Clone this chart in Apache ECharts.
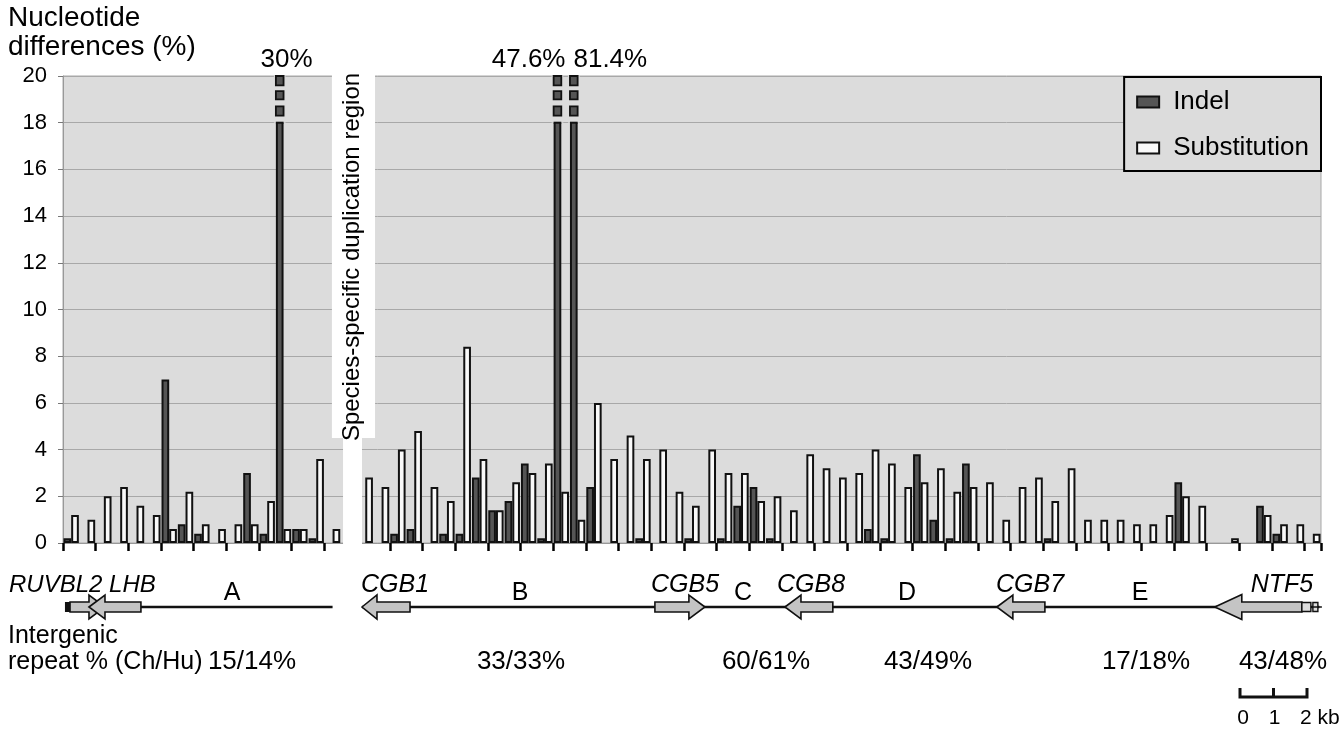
<!DOCTYPE html>
<html><head><meta charset="utf-8">
<script src="https://cdn.jsdelivr.net/npm/echarts@6/dist/echarts.min.js"></script>
<style>html,body{margin:0;padding:0;background:#fff}#c{width:1339px;height:730px}</style>
</head><body><div id="c"></div>
<script>
// ---------------- DATA ----------------
const categories = ['1','2','3','4','5','6','7','8','9','10','11','12','13','14','15','16','17','gap',
 '19','20','21','22','23','24','25','26','27','28','29','30','31','32','33','34','35','36','37','38','39','40',
 '41','42','43','44','45','46','47','48','49','50','51','52','53','54','55','56','57','58','59','60',
 '61','62','63','64','65','66','67','68','69','70','71','72','73','74','75','76','77'];
const indel = [0.2,0,0,0,0,0,7.0,0.8,0.4,0,0,3.0,0.4,30,0.6,0.2,0,
 null,
 0,0,0.4,0.6,0,0.4,0.4,2.8,1.4,1.8,3.4,0.2,47.6,81.4,2.4,0,0,0.2,0,0,0.2,0,0.2,1.6,2.4,0.2,
 0,0,0,0,0,0.6,0.2,0,3.8,1.0,0.2,3.4,0,0,0,0,0.2,0,0,0,0,0,0,0,2.6,0,0,0,0,1.6,0.4,0,0];
const substitution = [1.2,1.0,2.0,2.4,1.6,1.2,0.6,2.2,0.8,0.6,0.8,0.8,1.8,0.6,0.6,3.6,0.6,
 null,
 2.8,2.4,4.0,4.8,2.4,1.8,8.4,3.6,1.4,2.6,3.0,3.4,2.2,1.0,6.0,3.6,4.6,3.6,4.0,2.2,1.6,4.0,3.0,3.0,1.8,2.0,
 1.4,3.8,3.2,2.8,3.0,4.0,3.4,2.4,2.6,3.2,2.2,2.4,2.6,1.0,2.4,2.8,1.8,3.2,1.0,1.0,1.0,0.8,0.8,1.2,2.0,1.6,0,0.2,0,1.2,0.8,0.8,0.4];
const yTicks = [0,2,4,6,8,10,12,14,16,18,20];
const seriesNames = ['Indel','Substitution'];
const yAxisTitle = ['Nucleotide','differences (%)'];
const gapLabel = 'Species-specific duplication region';
const geneNames = ['RUVBL2','LHB','CGB1','CGB5','CGB8','CGB7','NTF5'];
const regionNames = ['A','B','C','D','E'];
const repeatTitle = ['Intergenic','repeat % (Ch/Hu)'];
const repeatPct = ['15/14%','33/33%','60/61%','43/49%','17/18%','43/48%'];
const scaleLabels = ['0','1','2 kb'];

// ---------------- LAYOUT / STYLE ----------------
const FONT = "'Liberation Sans', Arial, sans-serif";
const L = {
  grid: {left: 63, top: 76, width: 1258, height: 467},
  barCatGap: 0.06,
  gapStrip: [17.14, 18.3], gapBox: [16.46, 19.1], gapBoxBottom: 438,
  trackY: 607,
  segments: [[0.3, 16.5], [18.3, 76.9]],
  // gene extents in category units: [tail, tip]
  genes: [[0.43, 2.57], [4.77, 1.59], [21.24, 18.3], [36.23, 39.29], [47.12, 44.19], [60.1, 57.16], [75.83, 70.5]],
  geneHead: [16, 16, 15, 16, 16, 16, 27],
  geneLabelX: [395, 685, 811, 1030, 1282], geneLabelY: 585,
  regionX: [232, 520, 743, 907, 1140], regionY: 593,
  repeatX: [252, 521, 766, 928, 1146, 1283], repeatY: 662,
  scaleBar: {x0: 1240, x1: 1307, y: 697}
};
const N = categories.length;
const catW = L.grid.width / N;
const ux = u => L.grid.left + u * catW;
const yMin = yTicks[0], yMax = yTicks[yTicks.length - 1], yStep = yTicks[1] - yTicks[0];

function arrowPts(tail, tip, yc, headLen, headH, bodyH) {
  const d = tip > tail ? 1 : -1;
  const hb = tip - d * headLen;
  return [[tip, yc], [hb, yc - headH], [hb, yc - bodyH], [tail, yc - bodyH], [tail, yc + bodyH], [hb, yc + bodyH], [hb, yc + headH]];
}

const graphics = [];
// gap overlay
graphics.push({type: 'rect', z: 100, shape: {x: ux(L.gapBox[0]), y: 40, width: ux(L.gapBox[1]) - ux(L.gapBox[0]), height: L.gapBoxBottom - 40}, style: {fill: '#fff'}});
graphics.push({type: 'rect', z: 100, shape: {x: ux(L.gapStrip[0]), y: 40, width: ux(L.gapStrip[1]) - ux(L.gapStrip[0]), height: 520}, style: {fill: '#fff'}});
graphics.push({type: 'text', z: 101, x: (ux(L.gapStrip[0]) + ux(L.gapStrip[1])) / 2, y: (L.grid.top + L.gapBoxBottom) / 2, rotation: Math.PI / 2,
  style: {text: gapLabel, x: 0, y: 0, font: '24px ' + FONT, fill: '#000', textAlign: 'center', textVerticalAlign: 'middle'}});
// y title
yAxisTitle.forEach((t, i) => graphics.push({type: 'text', z: 101, style: {text: t, x: 8, y: 18 + i * 29, font: '28px ' + FONT, fill: '#000', textAlign: 'left', textVerticalAlign: 'middle'}}));
// track lines
L.segments.forEach(s => graphics.push({type: 'line', z: 100, shape: {x1: ux(s[0]), y1: L.trackY, x2: ux(s[1]), y2: L.trackY}, style: {stroke: '#111', lineWidth: 2.5}}));
// genes
L.genes.forEach((g, i) => {
  const big = i === 6;
  graphics.push({type: 'polygon', z: 102, shape: {points: arrowPts(ux(g[0]), ux(g[1]), L.trackY, L.geneHead[i], big ? 12.5 : 12, 5)},
    style: {fill: '#c4c4c4', stroke: '#111', lineWidth: 1.6}});
});
// RUVBL2 black cap
graphics.push({type: 'rect', z: 103, shape: {x: ux(0.12), y: L.trackY - 5, width: ux(0.43) - ux(0.12), height: 10}, style: {fill: '#111'}});
// NTF5 small exons
graphics.push({type: 'rect', z: 103, shape: {x: ux(75.83), y: L.trackY - 4.5, width: 9, height: 9}, style: {fill: '#ddd', stroke: '#111', lineWidth: 1.4}});
graphics.push({type: 'rect', z: 103, shape: {x: ux(75.83) + 11, y: L.trackY - 4.5, width: 5, height: 9}, style: {fill: '#ddd', stroke: '#111', lineWidth: 1.4}});
graphics.push({type: 'line', z: 103, shape: {x1: ux(75.83) + 9, y1: L.trackY, x2: ux(75.83) + 20, y2: L.trackY}, style: {stroke: '#111', lineWidth: 1.5}});
// gene labels (first two share one line)
graphics.push({type: 'text', z: 104, style: {text: geneNames[0] + ' ' + geneNames[1], x: 9, y: L.geneLabelY, font: 'italic 24px ' + FONT, fill: '#000', textAlign: 'left', textVerticalAlign: 'middle'}});
geneNames.slice(2).forEach((t, i) => graphics.push({type: 'text', z: 104, style: {text: t, x: L.geneLabelX[i], y: L.geneLabelY, font: 'italic 25px ' + FONT, fill: '#000', textAlign: 'center', textVerticalAlign: 'middle'}}));
regionNames.forEach((t, i) => graphics.push({type: 'text', z: 104, style: {text: t, x: L.regionX[i], y: L.regionY, font: '25px ' + FONT, fill: '#000', textAlign: 'center', textVerticalAlign: 'middle'}}));
repeatTitle.forEach((t, i) => graphics.push({type: 'text', z: 104, style: {text: t, x: 8, y: 636 + i * 26, font: '25px ' + FONT, fill: '#000', textAlign: 'left', textVerticalAlign: 'middle'}}));
repeatPct.forEach((t, i) => graphics.push({type: 'text', z: 104, style: {text: t, x: L.repeatX[i], y: L.repeatY, font: '26px ' + FONT, fill: '#000', textAlign: 'center', textVerticalAlign: 'middle'}}));
// scale bar
const sb = L.scaleBar, sbm = (sb.x0 + sb.x1) / 2;
graphics.push({type: 'polyline', z: 104, shape: {points: [[sb.x0, sb.y - 9], [sb.x0, sb.y], [sb.x1, sb.y], [sb.x1, sb.y - 9]]}, style: {stroke: '#111', lineWidth: 3, fill: null}});
graphics.push({type: 'line', z: 104, shape: {x1: sbm, y1: sb.y - 9, x2: sbm, y2: sb.y}, style: {stroke: '#111', lineWidth: 3}});
[[sb.x0 + 3, 'center'], [sbm + 1, 'center'], [sb.x1 - 7, 'left']].forEach((p, i) =>
  graphics.push({type: 'text', z: 104, style: {text: scaleLabels[i], x: p[0], y: 718, font: '21px ' + FONT, fill: '#000', textAlign: p[1], textVerticalAlign: 'middle'}}));

const barStyle = [
  {color: '#555555', borderColor: '#111', borderWidth: 2},
  {color: '#f9f9f9', borderColor: '#111', borderWidth: 2}
];
const toBar = arr => arr.map(v => (v === 0 || v == null) ? '-' : v);

const option = {
  animation: false,
  backgroundColor: '#fff',
  textStyle: {fontFamily: FONT},
  grid: Object.assign({show: true, backgroundColor: '#dcdcdc', borderColor: '#a8a8a8', borderWidth: 1}, L.grid),
  legend: {
    data: seriesNames, orient: 'vertical', right: 18, top: 77, icon: 'rect',
    itemWidth: 22, itemHeight: 11, itemGap: 16,
    padding: [10, 12, 8, 12],
    backgroundColor: '#dcdcdc', borderColor: '#000', borderWidth: 2,
    textStyle: {fontSize: 26, color: '#000', fontFamily: FONT, padding: [0, 0, 0, 9], lineHeight: 30}
  },
  xAxis: {
    type: 'category', data: categories, boundaryGap: true,
    axisLine: {show: true, lineStyle: {color: '#999', width: 1}},
    axisTick: {show: true, interval: 1, length: 8, lineStyle: {color: '#000', width: 2.5}},
    axisLabel: {show: false}, splitLine: {show: false}
  },
  yAxis: {
    type: 'value', min: yMin, max: yMax, interval: yStep,
    axisLine: {show: true, lineStyle: {color: '#999'}},
    axisTick: {show: true, length: 5, lineStyle: {color: '#777'}},
    axisLabel: {fontSize: 22, color: '#000', margin: 16, fontFamily: FONT},
    splitLine: {show: true, lineStyle: {color: '#a8a8a8', width: 1}}
  },
  series: [
    {name: seriesNames[0], type: 'bar', data: toBar(indel), barGap: '0%', barCategoryGap: (L.barCatGap * 100) + '%', itemStyle: barStyle[0], clip: true},
    {name: seriesNames[1], type: 'bar', data: toBar(substitution), barGap: '0%', barCategoryGap: (L.barCatGap * 100) + '%', itemStyle: barStyle[1], clip: true},
    {
      type: 'custom', z: 5, clip: false, silent: true,
      data: indel.map((v, i) => [i, v == null ? 0 : v]),
      renderItem(params, api) {
        const i = api.value(0), v = api.value(1);
        if (!(v > yMax)) return null;
        const cw = api.size([1, 0])[0];
        const bw = cw * (1 - L.barCatGap) / 2;
        const cx = api.coord([i, 0])[0];
        const xl = cx - bw;
        const yOf = val => api.coord([i, val])[1];
        const kids = [];
        kids.push({type: 'rect', shape: {x: xl - 2, y: yOf(yMax) - 1, width: bw + 4, height: yOf(yMax - 2) - yOf(yMax) + 1}, style: {fill: '#dcdcdc'}});
        [[yMax - 0.4, yMax], [yMax - 1.0, yMax - 0.65], [yMax - 1.7, yMax - 1.3]].forEach(b => {
          kids.push({type: 'rect', shape: {x: xl, y: yOf(b[1]), width: bw, height: yOf(b[0]) - yOf(b[1])}, style: {fill: '#555', stroke: '#111', lineWidth: 1.8}});
        });
        kids.push({type: 'line', shape: {x1: xl, y1: yOf(yMax - 2), x2: xl + bw, y2: yOf(yMax - 2)}, style: {stroke: '#111', lineWidth: 2}});
        const prevBig = indel[i - 1] > yMax, nextBig = indel[i + 1] > yMax;
        let tx = cx + 3, ta = 'center';
        if (nextBig) { tx = cx + cw / 2 - 4; ta = 'right'; }
        else if (prevBig) { tx = cx - cw / 2 + 4; ta = 'left'; }
        kids.push({type: 'text', style: {text: v + '%', x: tx, y: yOf(yMax) - 16, font: '26px ' + FONT, fill: '#000', textAlign: ta, textVerticalAlign: 'middle'}});
        return {type: 'group', children: kids};
      }
    }
  ],
  graphic: {elements: graphics}
};
const chart = echarts.init(document.getElementById('c'));
chart.setOption(option);
</script></body></html>
